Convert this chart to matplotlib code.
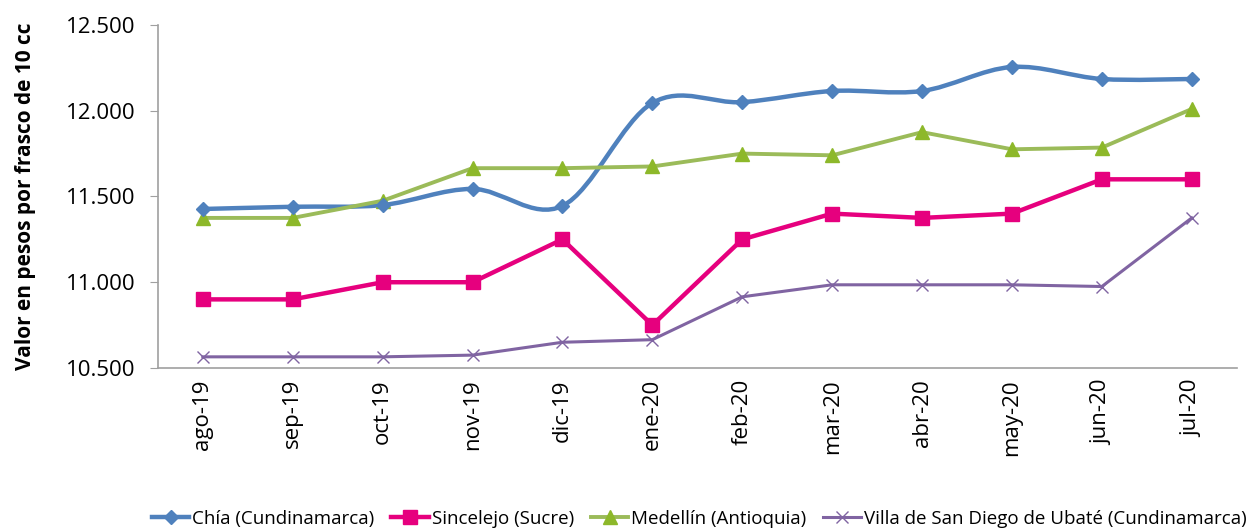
import matplotlib
matplotlib.use("Agg")
import matplotlib.pyplot as plt
import numpy as np
from matplotlib.path import Path
from matplotlib.patches import PathPatch
from matplotlib.lines import Line2D

plt.rcParams['font.family'] = ['Open Sans', 'DejaVu Sans']

months = ["ago-19", "sep-19", "oct-19", "nov-19", "dic-19", "ene-20",
          "feb-20", "mar-20", "abr-20", "may-20", "jun-20", "jul-20"]

chia = [11427, 11440, 11450, 11544, 11445, 12045,
        12050, 12115, 12115, 12255, 12185, 12185]
sincelejo = [10900, 10900, 11000, 11000, 11250, 10750,
             11250, 11400, 11375, 11400, 11600, 11600]
medellin = [11375, 11375, 11475, 11665, 11665, 11675,
            11750, 11740, 11875, 11775, 11785, 12010]
ubate = [10565, 10565, 10565, 10575, 10650, 10665,
         10915, 10985, 10985, 10985, 10975, 11375]

labels = ["Chía (Cundinamarca)", "Sincelejo (Sucre)",
          "Medellín (Antioquia)", "Villa de San Diego de Ubaté (Cundinamarca)"]

c_blue = "#4F81BD"
c_pink = "#E6007E"
c_green = "#9BBB59"
c_green_m = "#8DB82A"
c_purple = "#8064A2"


def smooth_path(xs, ys):
    # Excel-like smoothed line as cubic bezier segments
    pts = np.column_stack([xs, ys]).astype(float)
    n = len(pts)
    verts = [pts[0]]
    codes = [Path.MOVETO]
    for i in range(n - 1):
        p0 = pts[i - 1] if i > 0 else pts[i]
        p1 = pts[i]
        p2 = pts[i + 1]
        p3 = pts[i + 2] if i + 2 < n else pts[i + 1]
        c1 = p1 + (p2 - p0) / 6.0
        c2 = p2 - (p3 - p1) / 6.0
        verts += [c1, c2, p2]
        codes += [Path.CURVE4] * 3
    return Path(verts, codes)


fig = plt.figure(figsize=(12.53, 5.31), dpi=100)
ax = fig.add_axes([0.126, 0.307, 0.861, 0.646])

x = np.arange(len(months))

ax.add_patch(PathPatch(smooth_path(x, chia), fill=False, edgecolor=c_blue,
                       lw=3.2, capstyle='round', joinstyle='round', zorder=3))
ax.plot(x, chia, linestyle='none', marker='D', ms=7.5, color=c_blue, zorder=4)

ax.plot(x, sincelejo, color=c_pink, lw=3.2, marker='s', ms=10.5, zorder=3)
ax.plot(x, medellin, color=c_green, lw=2.8, marker='^', ms=10,
        mfc=c_green_m, mec=c_green_m, zorder=3)
ax.plot(x, ubate, color=c_purple, lw=2.2, marker='x', ms=8, mew=1.0, zorder=3)

ax.set_xlim(-0.5, len(months) - 0.5)
ax.set_ylim(10500, 12500)
ax.set_yticks([10500, 11000, 11500, 12000, 12500])
ax.set_yticklabels(["10.500", "11.000", "11.500", "12.000", "12.500"])
ax.set_xticks(x)
ax.set_xticklabels(months, rotation=90)

for s in ["top", "right"]:
    ax.spines[s].set_visible(False)
for s in ["left", "bottom"]:
    ax.spines[s].set_color("#A0A0A0")
    ax.spines[s].set_linewidth(1.2)
ax.tick_params(axis='y', length=6, color="#A0A0A0", labelsize=16, pad=10)
ax.tick_params(axis='x', length=0, labelsize=16, pad=8)

ax.set_ylabel("Valor en pesos por frasco de 10 cc", fontsize=15,
              fontweight='bold')
ax.yaxis.set_label_coords(-0.113, 0.5)

handles = [
    Line2D([], [], color=c_blue, lw=3.2, marker='D', ms=7.5),
    Line2D([], [], color=c_pink, lw=3.2, marker='s', ms=10.5),
    Line2D([], [], color=c_green, lw=2.8, marker='^', ms=10, mfc=c_green_m, mec=c_green_m),
    Line2D([], [], color=c_purple, lw=2.2, marker='x', ms=8, mew=1.0),
]
fig.legend(handles, labels, loc='center', bbox_to_anchor=(0.558, 0.023),
           ncol=4, frameon=False, fontsize=13.5, handlelength=2.0,
           handletextpad=0.15, columnspacing=0.9, borderaxespad=0)

fig.savefig("out.png", dpi=100)
